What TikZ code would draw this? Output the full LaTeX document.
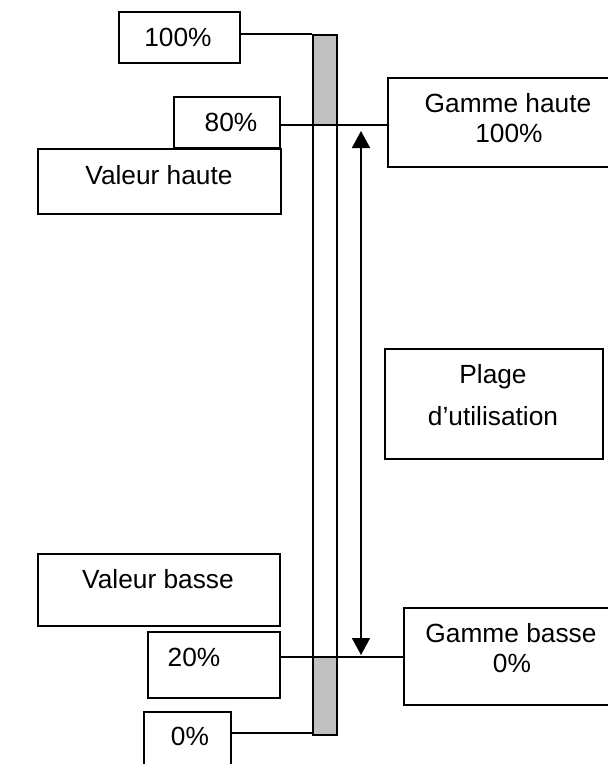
\documentclass[tikz,border=0pt]{standalone}
\usepackage{fontspec}
\setmainfont{Liberation Sans}
\usetikzlibrary{arrows.meta}
\definecolor{bargray}{HTML}{C0C0C0}
\tikzset{
  box/.style={draw, line width=1.6pt, rectangle, inner sep=0pt, anchor=north west},
  lbl/.style={anchor=base, inner sep=0pt, font=\fontsize{26.3}{30}\selectfont},
  conn/.style={line width=1.4pt},
  dbl/.style={line width=1.6pt, {Triangle[length=17pt,width=18pt]}-{Triangle[length=17pt,width=18pt]}}
}
\begin{document}
\begin{tikzpicture}[x=1pt,y=-1pt]
\useasboundingbox (0,0) rectangle (608,764);
\clip (0,0) rectangle (608,764);
% gray parts of bar
\fill[bargray] (312,34) rectangle (336,125);
\fill[bargray] (312,657) rectangle (336,734);
% bar
\node[box, minimum width=24pt, minimum height=700pt] (bar) at (312,34) {};
% boxes
\node[box, minimum width=121pt, minimum height=51pt] (b100) at (118,11) {};
\node[box, minimum width=106pt, minimum height=51pt] (b80) at (173,96) {};
\node[box, minimum width=243pt, minimum height=65pt] (vh) at (37,148) {};
\node[box, minimum width=240pt, minimum height=89pt] (gh) at (387,77) {};
\node[box, minimum width=218pt, minimum height=110pt] (pl) at (384,348) {};
\node[box, minimum width=242pt, minimum height=72pt] (vb) at (37,553) {};
\node[box, minimum width=132pt, minimum height=66pt] (b20) at (147,631) {};
\node[box, minimum width=87pt, minimum height=80pt] (b0) at (143,711) {};
\node[box, minimum width=220pt, minimum height=97pt] (gb) at (403,607) {};
% level coordinates
\coordinate (l100) at (0,34);
\coordinate (l80) at (0,125);
\coordinate (l20) at (0,657);
\coordinate (l0) at (0,733);
% connectors
\draw[conn] (b100.east |- l100) -- (bar.west |- l100);
\draw[conn] (b80.east |- l80) -- (gh.west |- l80);
\draw[conn] (b20.east |- l20) -- (gb.west |- l20);
\draw[conn] (b0.east |- l0) -- (bar.west |- l0);
% double arrow
\coordinate (atop) at (361,131);
\coordinate (abot) at (361,655);
\draw[dbl] (atop) -- (abot);
% texts
\node[lbl] (t100) at (178,46) {100\%};
\node[lbl] (t80) at (231,131) {80\%};
\node[lbl] (tvh) at (159,184) {Valeur haute};
\node[lbl] (tgh1) at (508,112) {Gamme haute};
\node[lbl] (tgh2) at (509,142) {100\%};
\node[lbl] (tpl1) at (493,383) {Plage};
\node[lbl] (tpl2) at (493,425) {d’utilisation};
\node[lbl] (tvb) at (158,588) {Valeur basse};
\node[lbl] (t20) at (194,666) {20\%};
\node[lbl] (t0) at (190,745) {0\%};
\node[lbl] (tgb1) at (511,642) {Gamme basse};
\node[lbl] (tgb2) at (512,672) {0\%};
\end{tikzpicture}
\end{document}
